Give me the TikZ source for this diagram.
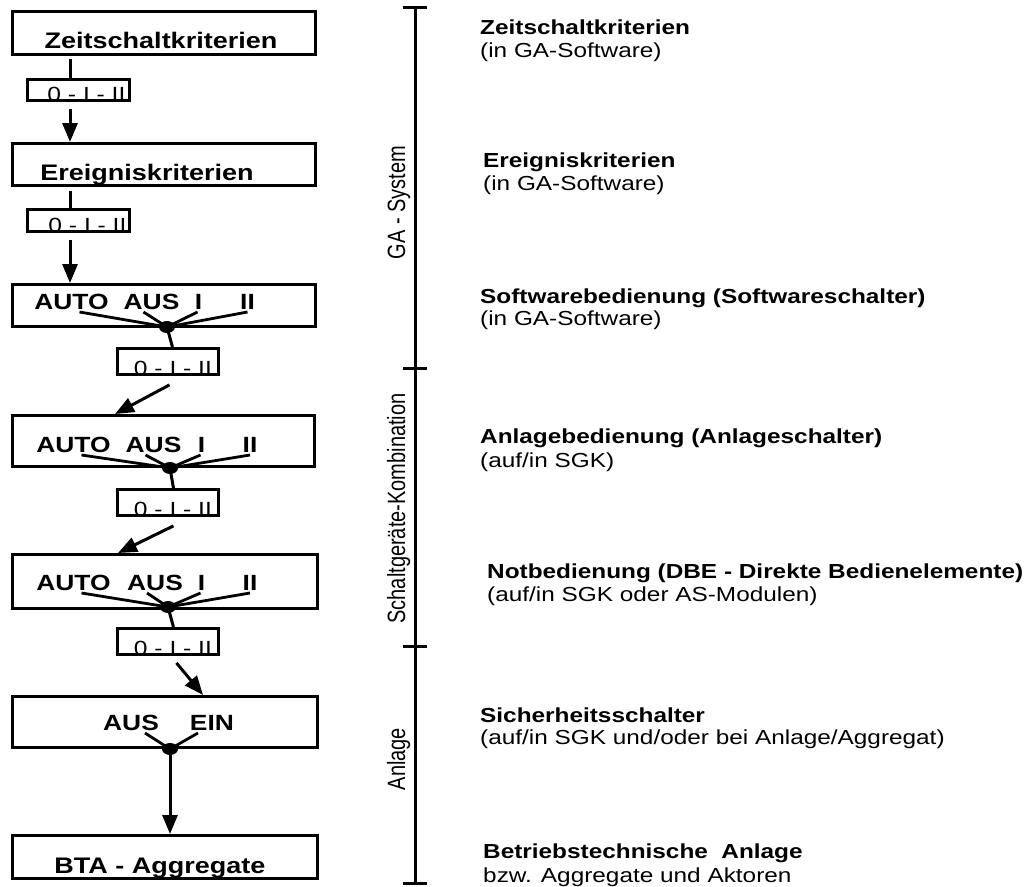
\documentclass[tikz,border=0pt]{standalone}
\usepackage{fontspec}
\usetikzlibrary{shapes.geometric,arrows.meta,calc}
\newfontfamily\fw{Liberation Sans}[FakeStretch=1.2]
\newfontfamily\fn{Liberation Sans}[FakeStretch=0.8]
\begin{document}
\begin{tikzpicture}[x=1pt,y=-1pt,
  box/.style={draw, line width=3.1pt, anchor=north west, inner sep=0pt},
  sbox/.style={draw, line width=2.9pt, anchor=north west, inner sep=0pt, minimum width=101pt},
  ttl/.style={anchor=base, inner sep=0pt, font={\fw\bfseries\fontsize{22.5}{26}\selectfont}},
  word/.style={anchor=base, inner sep=0pt, font={\fw\bfseries\fontsize{22}{25}\selectfont}},
  posn/.style={anchor=base, inner sep=0pt, font={\fw\fontsize{20.5}{24}\selectfont}},
  dot/.style={ellipse, fill=black, inner sep=0pt, minimum width=16pt, minimum height=12pt},
  conn/.style={line width=3pt},
  fan/.style={line width=2.8pt},
  arr/.style={line width=3pt, -{Triangle[length=19pt,width=15pt]}},
  rb/.style={anchor=base west, inner sep=0pt, font={\fw\bfseries\fontsize{20.3}{24}\selectfont}},
  rr/.style={anchor=base west, inner sep=0pt, font={\fw\fontsize{20.3}{24}\selectfont}},
  side/.style={rotate=90, anchor=base, inner sep=0pt, font={\fn\fontsize{25}{30}\selectfont}},
  rule/.style={line width=3pt}
]
\fill[white] (0,0) rectangle (1027,886);
\useasboundingbox (0,0) rectangle (1027,886);

% ---------- left column boxes ----------
\node[box, minimum width=303pt, minimum height=43pt] (b1) at (11,10) {};
\node[ttl] (t1) at (161,48) {Zeitschaltkriterien};
\node[sbox, minimum width=102pt, minimum height=21pt] (sb1) at (26,78) {};
\node[posn] (s1) at ([xshift=8pt]sb1.south) {0 - I - II};

\node[box, minimum width=303pt, minimum height=42pt] (b2) at (11,142) {};
\node[ttl] (t2) at (147,180) {Ereigniskriterien};
\node[sbox, minimum width=102pt, minimum height=22pt] (sb2) at (26,208) {};
\node[posn] (s2) at ([xshift=9pt]sb2.south) {0 - I - II};

\node[box, minimum width=303pt, minimum height=42pt] (b3) at (11,283) {};
\node[word] (w31) at (71.5,309) {AUTO};
\node[word] (w32) at (151.5,309) {AUS};
\node[word] (w33) at (198.5,309) {I};
\node[word] (w34) at (247.5,309) {II};
\node[dot] (d3) at (167,327) {};
\node[sbox, minimum height=26pt] (sb3) at (116,347) {};
\node[posn] (s3) at ([xshift=5pt]sb3.south) {0 - I - II};

\node[box, minimum width=302pt, minimum height=51pt] (b4) at (11,414) {};
\node[word] (w41) at (73.5,452) {AUTO};
\node[word] (w42) at (153.5,452) {AUS};
\node[word] (w43) at (201.5,452) {I};
\node[word] (w44) at (250,452) {II};
\node[dot] (d4) at (170,468) {};
\node[sbox, minimum height=26pt] (sb4) at (116,488) {};
\node[posn] (s4) at ([xshift=5pt]sb4.south) {0 - I - II};

\node[box, minimum width=305pt, minimum height=54pt] (b5) at (11,553) {};
\node[word] (w51) at (73.5,590) {AUTO};
\node[word] (w52) at (155,590) {AUS};
\node[word] (w53) at (201.5,590) {I};
\node[word] (w54) at (250,590) {II};
\node[dot] (d5) at (168,607) {};
\node[sbox, minimum height=26pt] (sb5) at (116,627) {};
\node[posn] (s5) at ([xshift=5pt]sb5.south) {0 - I - II};

\node[box, minimum width=305pt, minimum height=51pt] (b6) at (11,695) {};
\node[word] (w61) at (131,730) {AUS};
\node[word] (w62) at (212,730) {EIN};
\node[dot] (d6) at (170,749) {};

\node[box, minimum width=305pt, minimum height=43pt] (b7) at (11,834) {};
\node[ttl] (t7) at (160,873) {BTA - Aggregate};

% ---------- connectors ----------
\coordinate (p1) at (70,59);
\draw[conn] (p1) -- (p1 |- sb1.north);
\draw[arr] ([yshift=-7pt]sb1.south -| p1) -- (p1 |- b2.north);
\coordinate (p2) at (70,191);
\draw[conn] (p2) -- (p2 |- sb2.north);
\draw[arr] ([yshift=-7pt]sb2.south -| p2) -- (p2 |- b3.north);

\foreach \d/\a/\b/\c/\e in {d3/w31/w32/w33/w34, d4/w41/w42/w43/w44, d5/w51/w52/w53/w54}{
  \draw[fan] (\d.center) -- ([shift={(8,3)}]\a.base);
  \draw[fan] (\d.center) -- ([shift={(-8,3)}]\b.base);
  \draw[fan] (\d.center) -- ([shift={(-1,3)}]\c.base);
  \draw[fan] (\d.center) -- ([shift={(0,3)}]\e.base);
}
\draw[fan] (d6.center) -- ([shift={(14,3)}]w61.base);
\draw[fan] (d6.center) -- ([shift={(-14,3)}]w62.base);

\draw[conn] (d3.center) -- ([xshift=4.5pt]sb3.north);
\draw[conn] (d4.center) -- ([xshift=5.5pt]sb4.north);
\draw[conn] (d5.center) -- ([xshift=5.5pt]sb5.north);

\draw[arr] ([shift={(1.5,9)}]sb3.south) -- ([xshift=104pt]b4.north west);
\draw[arr] ([shift={(5.5,9)}]sb4.south) -- ([xshift=107pt]b5.north west);
\draw[arr] ([shift={(8.5,7)}]sb5.south) -- ([xshift=192pt]b6.north west);
\draw[arr] (d6.center) -- (d6.center |- b7.north);

% ---------- ruler ----------
\coordinate (r0) at (415,7);
\coordinate (r1) at (415,368);
\coordinate (r2) at (415,646);
\coordinate (r3) at (415,883);
\draw[rule] (r0) -- (r3);
\foreach \r in {r0,r1,r2,r3}{
  \draw[rule] ([xshift=-12pt]\r) -- ([xshift=12pt]\r);
}
\node[side] (l1) at (405,202.5) {GA - System};
\node[side] (l2) at (405,508.5) {Schaltgeräte-Kombination};
\node[side] (l3) at (405,759) {Anlage};

% ---------- right texts ----------
\node[rb] (a1) at (480,34) {Zeitschaltkriterien};
\node[rr] (a2) at (480,57) {(in GA-Software)};
\node[rb] (c1) at (483,167) {Ereigniskriterien};
\node[rr] (c2) at (483,190) {(in GA-Software)};
\node[rb] (e1) at (480,303) {Softwarebedienung (Softwareschalter)};
\node[rr] (e2) at (480,325) {(in GA-Software)};
\node[rb] (f1) at (480,443) {Anlagebedienung (Anlageschalter)};
\node[rr] (f2) at (480,467) {(auf/in SGK)};
\node[rb] (g1) at (487,578) {Notbedienung (DBE - Direkte Bedienelemente)};
\node[rr] (g2) at (487,601) {(auf/in SGK oder AS-Modulen)};
\node[rb] (h1) at (480,722) {Sicherheitsschalter};
\node[rr] (h2) at (480,744) {(auf/in SGK und/oder bei Anlage/Aggregat)};
\node[rb] (k1) at (483,858) {Betriebstechnische~~Anlage};
\node[rr] (k2) at (483,882) {bzw. Aggregate und Aktoren};
\end{tikzpicture}
\end{document}
